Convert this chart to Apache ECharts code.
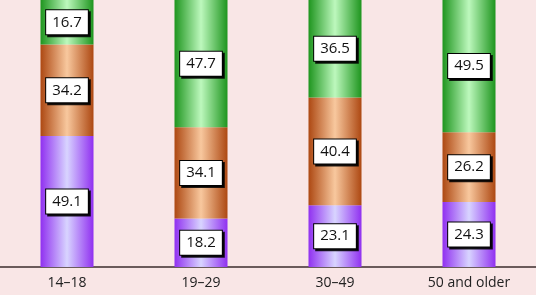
<!DOCTYPE html>
<html>
<head>
<meta charset="utf-8">
<style>
  html, body { margin: 0; padding: 0; background: #f9e6e6; }
  #chart { width: 536px; height: 295px; }
</style>
<script src="https://cdn.jsdelivr.net/npm/echarts@6/dist/echarts.min.js"></script>
</head>
<body>
<div id="chart"></div>
<script>
const categories = ['14–18', '19–29', '30–49', '50 and older']
const purpleValues = [49.1, 18.2, 23.1, 24.3]
const orangeValues = [34.2, 34.1, 40.4, 26.2]
const greenValues = [16.7, 47.7, 36.5, 49.5]

const chart = echarts.init(document.getElementById('chart'), null, { renderer: 'canvas' })

const cylinder = (dark, light) => ({
  type: 'linear', x: 0, y: 0, x2: 1, y2: 0,
  colorStops: [
    { offset: 0, color: dark },
    { offset: 0.5, color: light },
    { offset: 1, color: dark },
  ],
})

const boxLabel = {
  show: true,
  position: 'inside',
  color: '#111',
  fontFamily: 'Open Sans',
  fontSize: 15,
  lineHeight: 17,
  backgroundColor: '#fff',
  borderColor: '#000',
  borderWidth: 1,
  padding: [4, 6, 3, 6],
  shadowColor: 'rgba(0,0,0,0.85)',
  shadowOffsetX: 2,
  shadowOffsetY: 2,
  shadowBlur: 0,
  formatter: (p) => p.value.toFixed(1),
}

const makeSeries = (name, data, dark, light) => ({
  name,
  type: 'bar',
  stack: 'total',
  data,
  barWidth: 53,
  itemStyle: { color: cylinder(dark, light) },
  label: boxLabel,
})

chart.setOption({
  backgroundColor: '#f9e6e6',
  animation: false,
  grid: { left: 0, right: 0, top: 0, bottom: 28 },
  xAxis: {
    type: 'category',
    data: categories,
    axisLine: { lineStyle: { color: '#6b5b5b', width: 2 } },
    axisTick: { show: false },
    axisLabel: { color: '#222', fontSize: 14, fontFamily: 'Open Sans', margin: 9 },
  },
  yAxis: {
    type: 'value',
    min: 0,
    max: 100,
    show: false,
    splitLine: { show: false },
  },
  series: [
    makeSeries('purple', purpleValues, '#9030f0', '#d8d4ff'),
    makeSeries('orange', orangeValues, '#ad4812', '#f8c89e'),
    makeSeries('green', greenValues, '#1e951e', '#bdf8bd'),
  ],
})
</script>
</body>
</html>
